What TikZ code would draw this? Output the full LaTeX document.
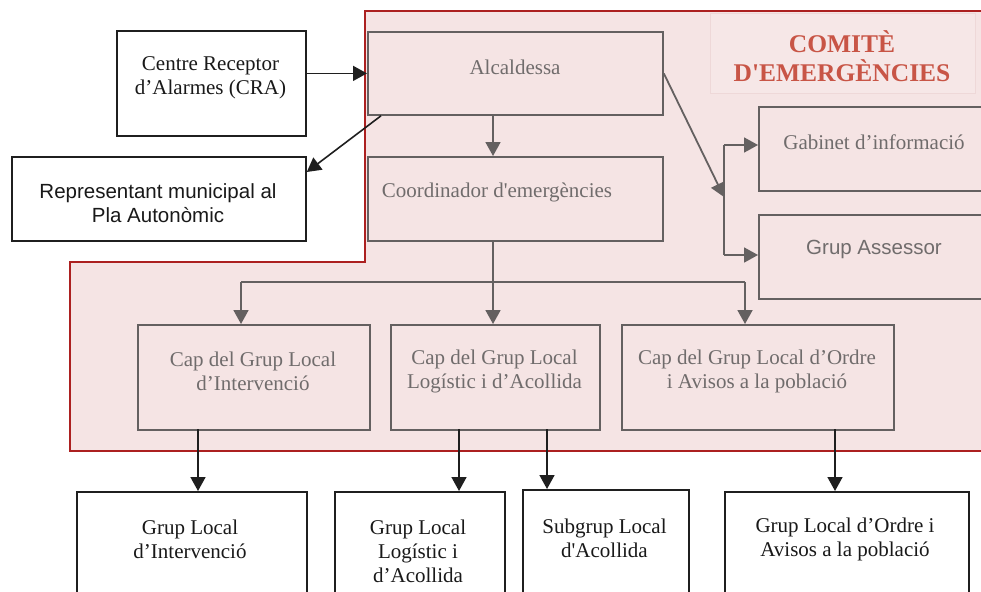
\documentclass[tikz,border=0pt]{standalone}
\usepackage{fontspec}
\setmainfont{Liberation Serif}[Ligatures=TeXOff]
\newfontfamily\arialf{Liberation Sans}[Ligatures=TeXOff]
\usetikzlibrary{arrows.meta}
\definecolor{pinkfill}{RGB}{245,228,228}
\definecolor{redline}{RGB}{172,32,32}
\definecolor{grayline}{RGB}{100,96,96}
\definecolor{graytext}{RGB}{112,108,108}
\definecolor{titlered}{RGB}{200,85,70}
\definecolor{titlefill}{RGB}{246,231,231}
\definecolor{titleedge}{RGB}{238,216,216}
\begin{document}
\begin{tikzpicture}[x=1pt,y=-1pt,
  graybox/.style={draw=grayline, line width=1.8pt, fill=pinkfill, inner sep=0, anchor=north west},
  blackbox/.style={draw=black!88, line width=1.8pt, fill=white, inner sep=0, anchor=north west},
  gtxt/.style={text=graytext, font=\fontsize{21}{24}\selectfont, align=center, inner sep=0},
  btxt/.style={text=black!90, font=\fontsize{21}{24}\selectfont, align=center, inner sep=0},
  gline/.style={draw=grayline, line width=1.8pt},
  garrow/.style={gline, -{Triangle[length=14pt,width=15pt]}},
  barrow/.style={draw=black!88, line width=1.6pt, -{Triangle[length=14pt,width=15pt]}}
]
\useasboundingbox (0,0) rectangle (981,591);
\clip (0,0) rectangle (981,591);
% committee region
\fill[pinkfill] (1000,11) -- (365,11) -- (365,262) -- (70,262) -- (70,451) -- (1000,451) -- cycle;
\draw[redline, line width=1.5pt] (1000,11) -- (365,11) -- (365,262) -- (70,262) -- (70,451) -- (1000,451);
% title
\node[draw=titleedge, fill=titlefill, line width=0.8pt, inner sep=0, anchor=north west,
      minimum width=265pt, minimum height=80pt] (titlebox) at (710,13) {};
\node[text=titlered, font=\bfseries\fontsize{25.5}{28.5}\selectfont, align=center, inner sep=0]
      (titletxt) at (842,56) {COMITÈ\\D'EMERGÈNCIES};
% outer black boxes top
\node[blackbox, minimum width=189pt, minimum height=105pt] (cra) at (116,30) {};
\node[blackbox, minimum width=294pt, minimum height=84pt] (rep) at (11,156) {};
% gray boxes
\node[graybox, minimum width=295pt, minimum height=83pt] (alc) at (367,31) {};
\node[graybox, minimum width=295pt, minimum height=84pt] (coord) at (367,156) {};
\node[graybox, minimum width=235pt, minimum height=84pt] (gab) at (758,106) {};
\node[graybox, minimum width=235pt, minimum height=84pt] (ases) at (758,214) {};
\node[graybox, minimum width=232pt, minimum height=105pt] (cap1) at (137,324) {};
\node[graybox, minimum width=209pt, minimum height=105pt] (cap2) at (390,324) {};
\node[graybox, minimum width=272pt, minimum height=105pt] (cap3) at (621,324) {};
% bottom black boxes
\node[blackbox, minimum width=230pt, minimum height=120pt] (g1) at (76,491) {};
\node[blackbox, minimum width=170pt, minimum height=120pt] (g2) at (334,491) {};
\node[blackbox, minimum width=166pt, minimum height=122pt] (g3) at (522,489) {};
\node[blackbox, minimum width=244pt, minimum height=120pt] (g4) at (724,491) {};
% texts
\node[btxt] (cratxt) at (210.5,78) {Centre Receptor\\d’Alarmes (CRA)};
\node[btxt, font=\arialf\fontsize{20.5}{23.5}\selectfont] (reptxt) at (158,203) {Representant municipal al\\Pla Autonòmic};
\node[gtxt] (alctxt) at (515,67) {Alcaldessa};
\node[gtxt] (coordtxt) at (497,192) {Coordinador d'emergències};
\node[gtxt] (gabtxt) at (874,142) {Gabinet d’informació};
\node[gtxt, font=\arialf\fontsize{20.5}{23.5}\selectfont] (asestxt) at (874,249) {Grup Assessor};
\node[gtxt] (cap1txt) at (253,371) {Cap del Grup Local\\d’Intervenció};
\node[gtxt] (cap2txt) at (494.5,371) {Cap del Grup Local\\Logístic i d’Acollida};
\node[gtxt] (cap3txt) at (757,371) {Cap del Grup Local d’Ordre\\i Avisos a la població};
\node[btxt] (g1txt) at (190,539) {Grup Local\\d’Intervenció};
\node[btxt] (g2txt) at (418,551) {Grup Local\\Logístic i\\d’Acollida};
\node[btxt] (g3txt) at (604.5,538) {Subgrup Local\\d'Acollida};
\node[btxt] (g4txt) at (845,539) {Grup Local d’Ordre i\\Avisos a la població};
% connectors
\draw[barrow] (alc.west -| cra.east) -- (alc.west);
\draw[barrow] ([xshift=14pt]alc.south west) -- ([yshift=-16pt]rep.north east);
\coordinate (hub) at (493,282);
\coordinate (hl) at (241,282);
\coordinate (hr) at (745,282);
\draw[garrow] (hub |- alc.south) -- (hub |- coord.north);
\draw[gline] (hub |- coord.south) -- (hub);
\draw[gline] (hl) -- (hr);
\draw[garrow] (hl) -- (hl |- cap1.north);
\draw[garrow] (hub) -- (hub |- cap2.north);
\draw[garrow] (hr) -- (hr |- cap3.north);
\coordinate (split) at (724,197);
\coordinate (vt) at (724,145);
\coordinate (vb) at (724,255);
\draw[garrow] (alc.east) -- (split);
\draw[gline] (vt) -- (vb);
\draw[garrow] (vt) -- (vt -| gab.west);
\draw[garrow] (vb) -- (vb -| ases.west);
\coordinate (d1) at (198,429);
\coordinate (d2) at (459,429);
\coordinate (d3) at (547,429);
\coordinate (d4) at (835,429);
\draw[barrow] (d1) -- (d1 |- g1.north);
\draw[barrow] (d2) -- (d2 |- g2.north);
\draw[barrow] (d3) -- (d3 |- g3.north);
\draw[barrow] (d4) -- (d4 |- g4.north);
\end{tikzpicture}
\end{document}
